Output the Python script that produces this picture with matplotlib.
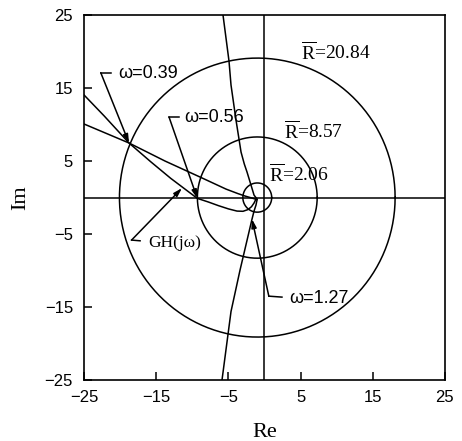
import numpy as np
import matplotlib.pyplot as plt

plt.rcParams["font.family"] = ["Liberation Sans", "DejaVu Sans"]
plt.rcParams["mathtext.fontset"] = "custom"
plt.rcParams["mathtext.rm"] = "Liberation Serif"

# ----------------------------
# Data
# ----------------------------
# GH(jw) curve
gh_re = [-25.0, -22.2, -18.77, -15.76, -12.99, -11.15, -9.31, -7.8, -6.4, -5.0, -3.81, -2.98, -2.3, -1.8, -1.45, -1.18]
gh_im = [14.04, 11.16, 7.47, 4.90, 2.63, 1.26, -0.11, -0.6, -1.1, -1.55, -1.85, -1.88, -1.65, -1.25, -0.75, -0.2]

# shallow line through the w=0.39 point
b_re = [-25.0, -18.77, -13.78, -8.93, -5.33, -3.7, -2.70, -1.8, -1.04]
b_im = [10.07, 7.47, 5.0, 2.81, 1.16, 0.55, 0.21, -0.05, -0.27]

# line coming from the top
c_re = [-5.75, -4.92, -4.64, -3.95, -3.25, -2.8, -2.42, -1.87, -1.45, -1.04]
c_im = [25.0, 18.70, 15.41, 10.62, 6.23, 4.6, 3.49, 1.71, 0.34, -0.2]

# line coming from the bottom
d_re = [-5.89, -4.64, -3.39, -1.73, -1.45, -1.18, -1.04]
d_im = [-25.0, -15.6, -9.93, -2.95, -1.85, -1.03, -0.34]

# circles around the -1 point
circle_center = (-1.0, 0.0)
circle_radii = [2.0, 8.3, 19.1]
circle_labels = ["2.06", "8.57", "20.84"]
circle_label_pos = [(0.62, 2.12), (2.70, 8.05), (5.06, 18.84)]

# frequency markers: (text, text pos, hook end, hook vertex, tip)
markers = [
    ("\u03c9=0.39", (-20.3, 16.4), (-21.3, 17.1), (-22.69, 17.1), (-18.77, 7.47)),
    ("\u03c9=0.56", (-11.15, 10.3), (-11.84, 11.03), (-13.23, 11.03), (-9.31, -0.11)),
    ("\u03c9=1.27", (3.39, -14.45), (2.42, -13.63), (0.6, -13.5), (-1.73, -2.95)),
]
gh_label_pos = (-16.14, -6.8)
gh_leader = [(-17.24, -5.92), (-18.42, -5.82), (-11.43, 1.30)]

ticks = [-25, -15, -5, 5, 15, 25]

# ----------------------------
# Plot
# ----------------------------
fig = plt.figure(figsize=(4.62, 4.41), dpi=100)
ax = fig.add_axes([0.182, 0.138, 0.781, 0.828])

lw = 1.1
ax.plot(gh_re, gh_im, color="black", lw=lw)
ax.plot(b_re, b_im, color="black", lw=lw)
ax.plot(c_re, c_im, color="black", lw=lw)
ax.plot(d_re, d_im, color="black", lw=lw)

t = np.linspace(0, 2 * np.pi, 400)
for r, lab, pos in zip(circle_radii, circle_labels, circle_label_pos):
    ax.plot(circle_center[0] + r * np.cos(t), circle_center[1] + r * np.sin(t),
            color="black", lw=lw)
    ax.text(pos[0], pos[1], r"$\overline{\mathrm{R}}$=" + lab,
            fontsize=14, family="Liberation Serif", va="baseline", ha="left")

ax.axhline(0, color="black", lw=lw)
ax.axvline(0, color="black", lw=lw)

arrow = dict(arrowstyle="-|>,head_length=0.5,head_width=0.15", color="black",
             lw=lw, shrinkA=0, shrinkB=0)
for text, tpos, hend, hvert, tip in markers:
    ax.plot([hend[0], hvert[0]], [hend[1], hvert[1]], color="black", lw=lw)
    ax.annotate("", xy=tip, xytext=hvert, arrowprops=arrow)
    ax.text(tpos[0], tpos[1], text, fontsize=13, va="baseline", ha="left")

ax.plot([gh_leader[0][0], gh_leader[1][0]], [gh_leader[0][1], gh_leader[1][1]],
        color="black", lw=lw)
ax.annotate("", xy=gh_leader[2], xytext=gh_leader[1], arrowprops=arrow)
ax.text(gh_label_pos[0], gh_label_pos[1], "GH(j\u03c9)", fontsize=12.5,
        family="Liberation Serif", va="baseline", ha="left")

ax.set_xlim(-25, 25)
ax.set_ylim(-25, 25)
ax.set_xticks(ticks)
ax.set_yticks(ticks)
ax.tick_params(direction="in", length=6, width=1.1, labelsize=12, pad=7)
ax.tick_params(axis="y", pad=8)
for s in ax.spines.values():
    s.set_linewidth(1.2)

ax.set_xlabel("Re", family="Liberation Serif", fontsize=16, labelpad=13)
ax.set_ylabel("Im", family="Liberation Serif", fontsize=16, labelpad=10)

fig.savefig("out.png", dpi=100)
